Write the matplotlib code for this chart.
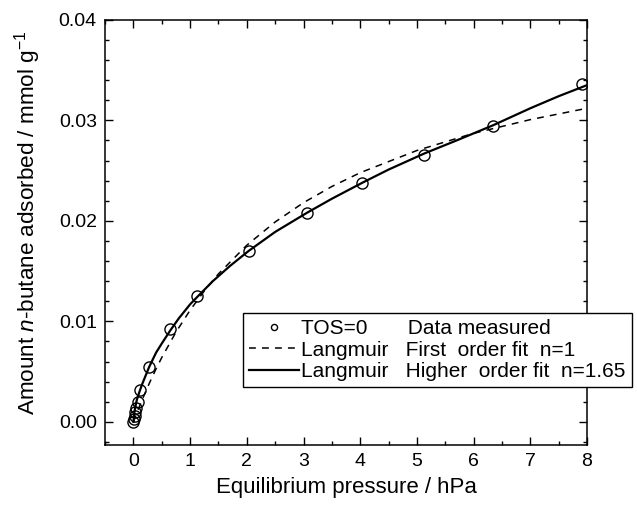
import matplotlib
matplotlib.use('Agg')
import matplotlib.pyplot as plt
from matplotlib.ticker import MultipleLocator, FormatStrFormatter

plt.rcParams['font.family'] = ['Liberation Sans', 'DejaVu Sans']
plt.rcParams['mathtext.fontset'] = 'custom'
plt.rcParams['mathtext.rm'] = 'Liberation Sans'
plt.rcParams['mathtext.it'] = 'Liberation Sans:italic'

# measured points, TOS=0
p_meas = [0.0, 0.01, 0.02, 0.03, 0.05, 0.08, 0.12, 0.28, 0.65, 1.12,
          2.03, 3.06, 4.04, 5.13, 6.34, 7.92]
q_meas = [0.0, 0.0003, 0.0006, 0.0010, 0.0014, 0.0020, 0.0032, 0.0055,
          0.0092, 0.0125, 0.0170, 0.0208, 0.0238, 0.0266, 0.0294, 0.0336]

# Langmuir first order fit n=1
p_fit1 = [0.0, 0.05, 0.1, 0.2, 0.3, 0.4, 0.5, 0.75, 1.0, 1.25, 1.5, 2.0,
          2.5, 3.0, 3.5, 4.0, 5.0, 6.0, 7.0, 8.0]
q_fit1 = [0.0, 0.00074, 0.00146, 0.00282, 0.00409, 0.00529, 0.00641,
          0.00893, 0.01112, 0.01303, 0.01473, 0.01758, 0.01989, 0.02181,
          0.02342, 0.02479, 0.0270, 0.02871, 0.03007, 0.0312]

# Langmuir higher order fit n=1.65
p_fit2 = [0.0, 0.01, 0.03, 0.06, 0.1, 0.15, 0.2, 0.28, 0.4, 0.5, 0.65, 0.8,
          1.0, 1.12, 1.4, 1.7, 2.03, 2.5, 3.06, 3.5, 4.04, 4.5, 5.13, 5.7,
          6.34, 7.0, 7.5, 8.0]
q_fit2 = [0.0, 0.0007, 0.0014, 0.0022, 0.0029, 0.0037, 0.0044, 0.0055,
          0.0069, 0.0078, 0.0091, 0.0103, 0.0117, 0.0124, 0.0140, 0.0155,
          0.0170, 0.0189, 0.0208, 0.0222, 0.0238, 0.0251, 0.0267, 0.0280,
          0.0295, 0.0312, 0.0324, 0.0335]

fig = plt.figure(figsize=(6.37, 5.08), dpi=100)
ax = fig.add_axes([0.165, 0.124, 0.7565, 0.837])

ax.plot(p_meas, q_meas, 'o', mfc='none', mec='black', ms=8, mew=1.0,
        label='TOS=0       Data measured', zorder=3)
ax.plot(p_fit1, q_fit1, color='black', lw=1.1, ls=(0, (4.5, 4)),
        label='Langmuir   First  order fit  n=1')
ax.plot(p_fit2, q_fit2, color='black', lw=1.6,
        label='Langmuir   Higher  order fit  n=1.65')

ax.set_xlim(-0.5, 8.0)
ax.set_ylim(-0.0023, 0.04)
ax.xaxis.set_major_locator(MultipleLocator(1))
ax.xaxis.set_minor_locator(MultipleLocator(0.5))
ax.yaxis.set_major_locator(MultipleLocator(0.01))
ax.yaxis.set_minor_locator(MultipleLocator(0.002))
ax.yaxis.set_major_formatter(FormatStrFormatter('%.2f'))
ax.tick_params(which='both', direction='in', top=True, right=True,
               labelsize=14, width=1)
ax.tick_params(which='major', length=6, pad=6)
ax.tick_params(which='minor', length=3)
for sp in ax.spines.values():
    sp.set_linewidth(1.1)

ax.set_xlabel('Equilibrium pressure / hPa', fontsize=16, labelpad=5)
ax.set_ylabel('Amount $n$-butane adsorbed / mmol g$^{-1}$', fontsize=16.2)
ax.yaxis.set_label_coords(-0.128, 0.522)

leg = ax.legend(loc='upper left', bbox_to_anchor=(0.2857, 0.311),
                fontsize=15, frameon=True, fancybox=False, markerscale=0.55,
                handlelength=2.4, handletextpad=0.1, borderpad=0.3,
                labelspacing=0.12, borderaxespad=0, framealpha=1)
leg.get_frame().set_edgecolor('black')
leg.get_frame().set_linewidth(1.0)

fig.savefig('out.png', dpi=100)
